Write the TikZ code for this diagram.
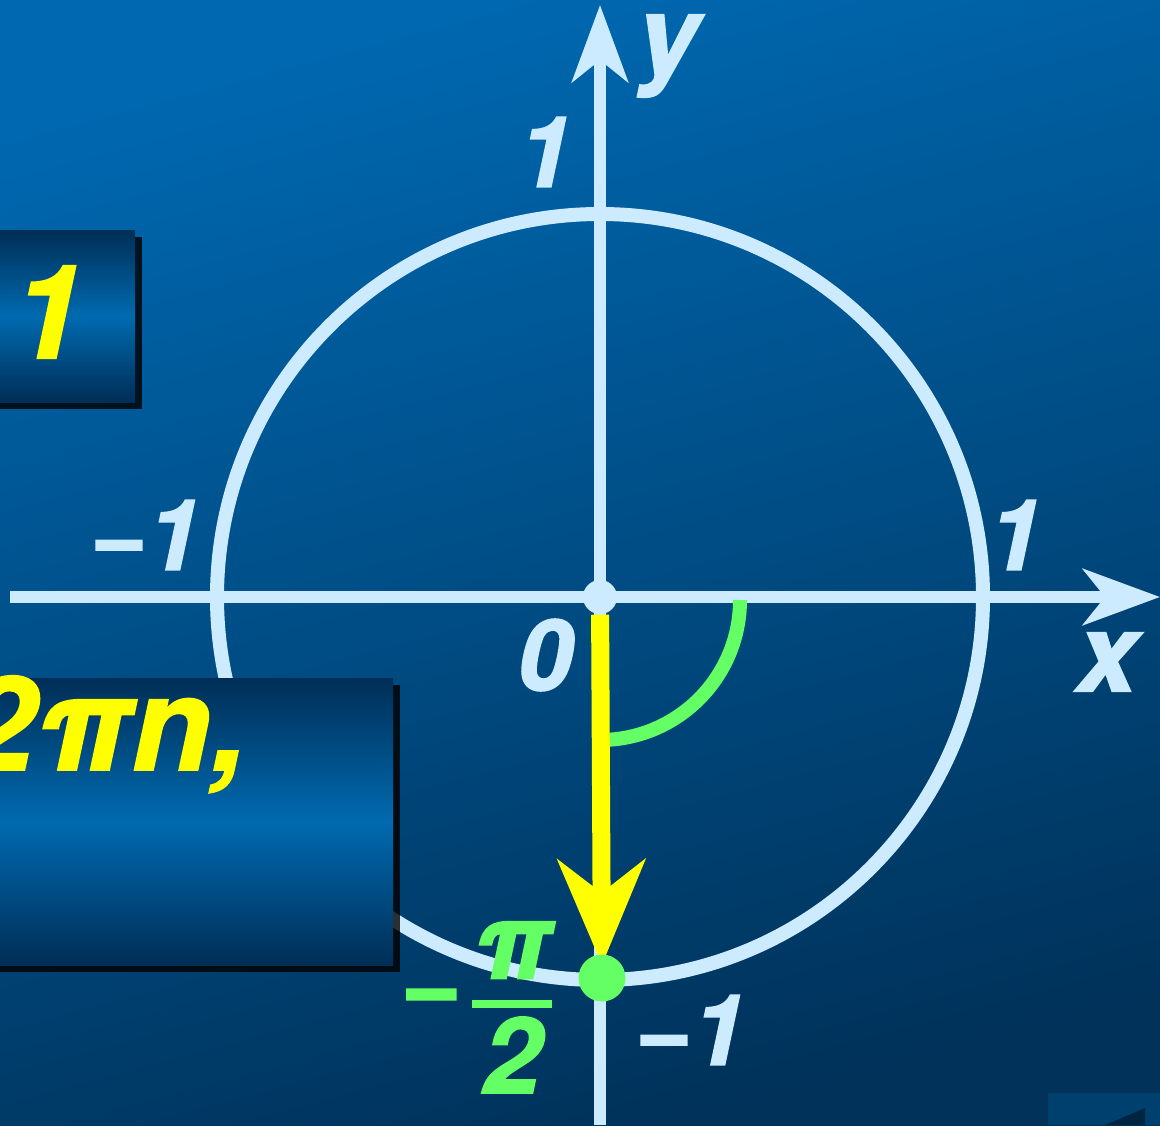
\documentclass[tikz,border=0pt]{standalone}
\usepackage{fontspec}
\setmainfont{TeX Gyre Heros}[BoldItalicFeatures={FakeBold=1.5}]
\usepackage{tikz}
\usetikzlibrary{arrows.meta,shadows}
\definecolor{fondHaut}{RGB}{0,104,176}
\definecolor{fondBas}{RGB}{0,50,90}
\definecolor{axeClair}{RGB}{205,235,255}
\definecolor{vertAngle}{RGB}{100,255,100}
\definecolor{jauneVec}{RGB}{255,255,0}
\definecolor{cadreSombre}{RGB}{0,46,86}
\definecolor{cadreClair}{RGB}{0,106,176}
\definecolor{boutonFond}{RGB}{0,64,110}
\definecolor{boutonFleche}{RGB}{0,36,66}

\begin{document}
\begin{tikzpicture}[x=0.1mm, y=-0.1mm,
			lab/.style={text=axeClair, font=\fontsize{28}{28}\selectfont\bfseries\itshape, inner sep=0pt},
			big/.style={text=jauneVec, font=\fontsize{37}{37}\selectfont\bfseries\itshape, inner sep=0pt},
			frac/.style={text=vertAngle, font=\fontsize{30}{30}\selectfont\bfseries\itshape, inner sep=0pt},
			axis/.style={draw=axeClair, line width=1.2mm, -{Stealth[length=7.7mm, width=5.6mm, inset=2.2mm]}},
			vector/.style={draw=jauneVec, line width=1.8mm, -{Stealth[length=10.5mm, width=8.7mm, inset=3.3mm]}},
			dot/.style={circle, inner sep=0pt, minimum size=#1},
			panel/.style={top color=cadreSombre, bottom color=cadreSombre, middle color=cadreClair,
				drop shadow={shadow xshift=0.7mm, shadow yshift=-0.7mm, opacity=0.8, fill=black}, inner sep=0pt}
			]
			\useasboundingbox (0,0) rectangle (1160,1125);
			\clip (0,0) rectangle (1160,1125);
			\shade[top color=fondHaut, bottom color=fondBas, shading angle=15] (0,0) rectangle (1160,1125);
			
			% axes et cercle
			\coordinate (xDeb) at (10,597);
			\coordinate (xFin) at (1160,597);
			\coordinate (yDeb) at (600,1125);
			\coordinate (yFin) at (600,5);
			\draw[axeClair, line width=1.4mm] (600,597) circle[radius=383];
			\draw[axis] (xDeb) -- (xFin);
			\draw[axis] (yDeb) -- (yFin);
			\node[dot=3.4mm, fill=axeClair] (origine) at (600,597) {};
			
			\draw[vertAngle, line width=1.4mm] (740,600) arc[start angle=0, end angle=90, radius=140];
			\coordinate (pointM) at (602,978);
			\draw[vector, shorten >=1.3mm] (origine) -- (pointM);
			\node[dot=4.7mm, fill=vertAngle] (pointVert) at (pointM) {};
			
			\node[lab] (unHaut) at (545,152) {1};
			\node[lab] (moinsUnG) at (145,535) {−1};
			\node[lab] (unDroite) at (1015,535) {1};
			\node[lab] (zero) at (545,655) {0};
			\node[lab, font=\fontsize{31}{31}\selectfont\bfseries\itshape] (axeX) at (1107,662) {x};
			\node[lab, font=\fontsize{31}{31}\selectfont\bfseries\itshape] (axeY) at (668,56) {y};
			\node[lab] (moinsUnB) at (690,1030) {−1};
			
			\node[frac] (piMoins) at (430,1005) {−};
			\node[frac] (piNum) at (512,950) {π};
			\node[frac] (piDen) at (512,1055) {2};
			\draw[vertAngle, line width=0.8mm] (472,1004) -- (552,1004);
			
			% cadres
			\node[panel, minimum width=17.5mm, minimum height=17.2mm] (cadreUn) at (47.5,316) {};
			\node[big] (unJaune) at (48,312) {1};
			\node[panel, minimum width=43.3mm, minimum height=28.7mm] (cadreDeux) at (176.5,821.5) {};
			\node[big, anchor=base east] (deuxPiN) at (248,770) {2πn,};
			
			\fill[boutonFond] (1048,1093) rectangle (1160,1125);
			\fill[boutonFleche] (1145,1108) -- (1145,1125) -- (1105,1125) -- cycle;
		\end{tikzpicture}
\end{document}
